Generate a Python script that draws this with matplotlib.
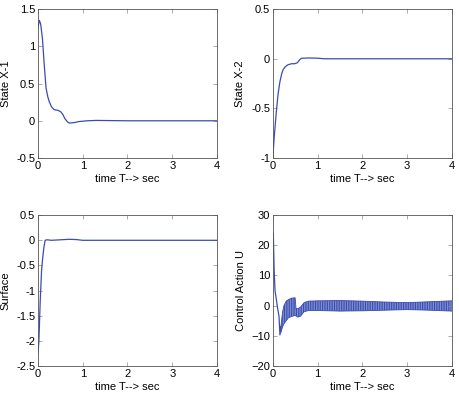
import numpy as np
import matplotlib
matplotlib.use('Agg')
import matplotlib.pyplot as plt

# values
t_x1 = [0.0, 0.03, 0.06, 0.1, 0.14, 0.18, 0.22, 0.25, 0.3, 0.36, 0.45, 0.51, 0.56, 0.6, 0.66, 0.7, 0.8, 0.92, 1.1, 1.3, 2.0, 3.0, 4.0]
x1 = [1.25, 1.35, 1.30, 1.10, 0.75, 0.44, 0.32, 0.26, 0.19, 0.15, 0.14, 0.12, 0.08, 0.03, -0.015, -0.03, -0.025, -0.01, 0.0, 0.005, 0.0, 0.0, 0.0]

t_x2 = [0.0, 0.03, 0.08, 0.12, 0.16, 0.2, 0.23, 0.28, 0.34, 0.42, 0.49, 0.55, 0.6, 0.64, 0.8, 1.0, 1.15, 1.3, 2.0, 3.0, 4.0]
x2 = [-1.0, -0.8, -0.53, -0.35, -0.23, -0.15, -0.11, -0.08, -0.06, -0.05, -0.05, -0.04, -0.01, 0.005, 0.008, 0.006, 0.0, 0.0, 0.0, 0.0, 0.0]

t_s = [0.0, 0.02, 0.05, 0.08, 0.1, 0.13, 0.16, 0.2, 0.3, 0.5, 0.7, 0.85, 1.0, 2.0, 3.0, 4.0]
s = [-2.25, -2.0, -1.2, -0.6, -0.4, -0.15, 0.0, 0.01, 0.0, 0.01, 0.02, 0.015, 0.0, 0.0, 0.0, 0.0]

t_u = [0.0, 0.012, 0.03, 0.05, 0.08, 0.11, 0.14, 0.16, 0.18]
u = [19.0, 24.0, 12.0, 5.0, 2.0, -1.0, -3.6, -9.7, -7.0]

# chattering band of the control action (upper / lower envelope)
t_band = [0.18, 0.22, 0.25, 0.3, 0.35, 0.42, 0.5, 0.52, 0.56, 0.62, 0.7, 0.8, 1.0, 1.5, 2.0, 2.5, 3.0, 3.5, 4.0]
u_up = [-7.0, -2.0, 0.0, 1.5, 2.0, 2.5, 2.6, -1.0, -1.0, -0.5, 1.0, 1.5, 1.6, 1.7, 1.5, 1.2, 1.0, 1.3, 1.6]
u_lo = [-9.0, -7.0, -6.0, -5.0, -4.0, -3.6, -3.2, -3.4, -3.8, -3.5, -2.0, -1.6, -1.6, -1.8, -1.7, -1.5, -1.3, -1.5, -1.8]

xticks = [0, 1, 2, 3, 4]
xlabel = 'time T--> sec'

plt.rcParams['font.family'] = ['Liberation Sans', 'DejaVu Sans']
plt.rcParams['font.size'] = 8

line_c = '#3a4cb0'
plt.rcParams['hatch.color'] = line_c
plt.rcParams['hatch.linewidth'] = 0.8

fig = plt.figure(figsize=(4.6, 3.98), dpi=100)
ax1 = fig.add_axes((0.0826, 0.603, 0.389, 0.374))
ax2 = fig.add_axes((0.593, 0.603, 0.389, 0.374))
ax3 = fig.add_axes((0.0826, 0.0804, 0.389, 0.379))
ax4 = fig.add_axes((0.593, 0.0804, 0.389, 0.379))

ax1.plot(t_x1, x1, color=line_c, lw=0.9)
ax1.set_ylim(-0.5, 1.5)
ax1.set_yticks([-0.5, 0, 0.5, 1, 1.5])
ax1.set_yticklabels(['-0.5', '0', '0.5', '1', '1.5'])
ax1.set_ylabel('State X-1')

ax2.plot(t_x2, x2, color=line_c, lw=0.9)
ax2.set_ylim(-1, 0.5)
ax2.set_yticks([-1, -0.5, 0, 0.5])
ax2.set_yticklabels(['-1', '-0.5', '0', '0.5'])
ax2.set_ylabel('State X-2')

ax3.plot(t_s, s, color=line_c, lw=0.9)
ax3.set_ylim(-2.5, 0.5)
ax3.set_yticks([-2.5, -2, -1.5, -1, -0.5, 0, 0.5])
ax3.set_yticklabels(['-2.5', '-2', '-1.5', '-1', '-0.5', '0', '0.5'])
ax3.set_ylabel('Surface')

ax4.plot(t_u, u, color=line_c, lw=0.9)
ax4.fill_between(t_band, u_lo, u_up, facecolor='#7f8dd0', edgecolor=line_c,
                 hatch='|||||||', linewidth=0)
ax4.plot(t_band, u_up, color=line_c, lw=0.6)
ax4.plot(t_band, u_lo, color=line_c, lw=0.6)
ax4.set_ylim(-20, 30)
ax4.set_yticks([-20, -10, 0, 10, 20, 30])
ax4.set_ylabel('Control Action U')

for ax in (ax1, ax2, ax3, ax4):
    ax.set_xlim(0, 4)
    ax.set_xticks(xticks)
    ax.set_xlabel(xlabel, labelpad=2)
    ax.tick_params(direction='in', top=True, right=True, length=3,
                   width=0.5, color='#888888', pad=2)
    for sp in ax.spines.values():
        sp.set_color('#555555')
        sp.set_linewidth(0.6)

fig.savefig('out.png', dpi=100)
